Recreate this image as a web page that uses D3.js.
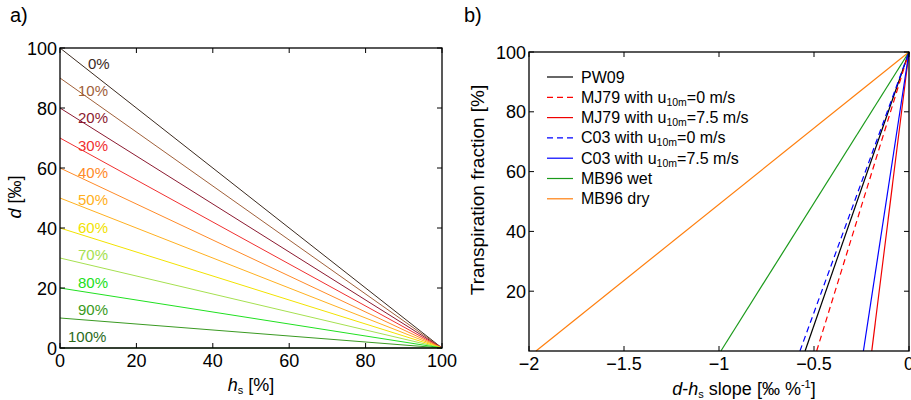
<!DOCTYPE html>
<html><head><meta charset="utf-8">
<script src="https://cdn.jsdelivr.net/npm/d3@7"></script>
<style>
body{margin:0;background:#fff;}
svg{font-family:"Liberation Sans",Arial,Helvetica,sans-serif;}
</style></head>
<body><svg id="c" width="911" height="400"></svg>
<script>
// Panel a data
const fractions = [0,10,20,30,40,50,60,70,80,90,100];
const dIntercepts = [100,90,80,70,60,50,40,30,20,10,0];
const aColors = ["#3b2a1f","#a0603a","#8b1a30","#f03030","#ff8a28","#ffb020","#f2e200","#a6e050","#20e020","#3a9a22","#2a6a1a"];
const aTicks = [0,20,40,60,80,100];

// Panel b data
const seriesNames = ["PW09","MJ79 with u10m=0 m/s","MJ79 with u10m=7.5 m/s","C03 with u10m=0 m/s","C03 with u10m=7.5 m/s","MB96 wet","MB96 dry"];
const slopeAtZero = [-0.547,-0.486,-0.196,-0.574,-0.240,-0.990,-1.963];
const bColors = ["#000000","#ff0000","#f00000","#0000ff","#0000ff","#1a9a1a","#ff7f0e"];
const bDashed = [false,true,false,true,false,false,false];
const bXTicks = [-2,-1.5,-1,-0.5,0];
const bYTicks = [20,40,60,80,100];

const svg = d3.select("#c");
const fs = 18;

function box(g, x, y, w, h, xTicks, yTicks, xs, ys, xfmt, yfmt){
  const tl = 5;
  xTicks.forEach(t=>{
    const px = xs(t);
    g.append("line").attr("x1",px).attr("x2",px).attr("y1",y+h).attr("y2",y+h-tl).attr("stroke","#000");
    g.append("line").attr("x1",px).attr("x2",px).attr("y1",y).attr("y2",y+tl).attr("stroke","#000");
    g.append("text").attr("x",px).attr("y",y+h+19).attr("text-anchor","middle").attr("font-size",fs).text(xfmt(t));
  });
  yTicks.forEach(t=>{
    const py = ys(t);
    g.append("line").attr("x1",x).attr("x2",x+tl).attr("y1",py).attr("y2",py).attr("stroke","#000");
    g.append("line").attr("x1",x+w).attr("x2",x+w-tl).attr("y1",py).attr("y2",py).attr("stroke","#000");
    g.append("text").attr("x",x-3).attr("y",py+6.5).attr("text-anchor","end").attr("font-size",fs).text(yfmt(t));
  });
  g.append("rect").attr("x",x).attr("y",y).attr("width",w).attr("height",h).attr("fill","none").attr("stroke","#000").attr("stroke-width",1.3);
}

// ---- Panel a ----
const ax0=60, ay0=48, aw=382, ah=300;
const xa = d3.scaleLinear().domain([0,100]).range([ax0,ax0+aw]);
const ya = d3.scaleLinear().domain([0,100]).range([ay0+ah,ay0]);
const ga = svg.append("g");
const lineA = d3.line().x(d=>xa(d[0])).y(d=>ya(d[1]));
fractions.forEach((f,i)=>{
  ga.append("path").attr("d",lineA([[0,dIntercepts[i]],[100,0]])).attr("stroke",aColors[i]).attr("stroke-width",1).attr("fill","none");
});
fractions.forEach((f,i)=>{
  const ly = 95 - 0.913*f;
  const lx = i===0 ? 7.3 : (i===10 ? 2.1 : 4.7);
  ga.append("text").attr("x",xa(lx)).attr("y",ya(ly)+5.5).attr("font-size",15).attr("fill",aColors[i]).text(f+"%");
});
box(ga, ax0, ay0, aw, ah, aTicks, aTicks, xa, ya, d3.format("d"), d3.format("d"));
ga.append("text").attr("x",10).attr("y",22).attr("font-size",20).text("a)");
const yla = ga.append("text").attr("transform","translate(21,197) rotate(-90)").attr("text-anchor","middle").attr("font-size",fs);
yla.append("tspan").attr("font-style","italic").text("d");
yla.append("tspan").text(" [‰]");
const xla = ga.append("text").attr("x",xa(50)).attr("y",391).attr("text-anchor","middle").attr("font-size",fs);
xla.append("tspan").attr("font-style","italic").text("h");
xla.append("tspan").attr("font-size",11).attr("dy",3).text("s");
xla.append("tspan").attr("dy",-3).text(" [%]");

// ---- Panel b ----
const bx0=529, by0=52, bw=380, bh=299;
const xb = d3.scaleLinear().domain([-2,0]).range([bx0,bx0+bw]);
const yb = d3.scaleLinear().domain([0,100]).range([by0+bh,by0]);
const gb = svg.append("g");
const lineB = d3.line().x(d=>xb(d[0])).y(d=>yb(d[1]));
const order = [6,5,0,1,2,3,4];
order.forEach(i=>{
  gb.append("path").attr("d",lineB([[slopeAtZero[i],0],[0,100]])).attr("stroke",bColors[i]).attr("stroke-width",1.2).attr("fill","none")
    .attr("stroke-dasharray",bDashed[i]?"6,4":null);
});
box(gb, bx0, by0, bw, bh, bXTicks, bYTicks, xb, yb, d3.format("~g"), d3.format("d"));
gb.append("text").attr("x",464).attr("y",22).attr("font-size",20).text("b)");
gb.append("text").attr("transform","translate(484,190) rotate(-90)").attr("text-anchor","middle").attr("font-size",19).text("Transpiration fraction [%]");
const xlb = gb.append("text").attr("x",744).attr("y",395).attr("text-anchor","middle").attr("font-size",fs);
xlb.append("tspan").attr("font-style","italic").text("d");
xlb.append("tspan").text("-");
xlb.append("tspan").attr("font-style","italic").text("h");
xlb.append("tspan").attr("font-size",11).attr("dy",3).text("s");
xlb.append("tspan").attr("dy",-3).text(" slope [‰ %");
xlb.append("tspan").attr("font-size",11).attr("dy",-7).text("-1");
xlb.append("tspan").attr("dy",7).text("]");

// legend
seriesNames.forEach((n,i)=>{
  const ly = 77 + 20.3*i;
  gb.append("line").attr("x1",547).attr("x2",573).attr("y1",ly).attr("y2",ly).attr("stroke",bColors[i]).attr("stroke-width",1.2)
    .attr("stroke-dasharray",bDashed[i]?"6,4":null);
  const t = gb.append("text").attr("x",581).attr("y",ly+5.5).attr("font-size",16);
  const m = n.match(/^(.*u)(10m)(.*)$/);
  if(m){
    t.append("tspan").text(m[1]);
    t.append("tspan").attr("font-size",10.5).attr("dy",3).text(m[2]);
    t.append("tspan").attr("dy",-3).text(m[3]);
  } else t.text(n);
});
</script></body></html>
